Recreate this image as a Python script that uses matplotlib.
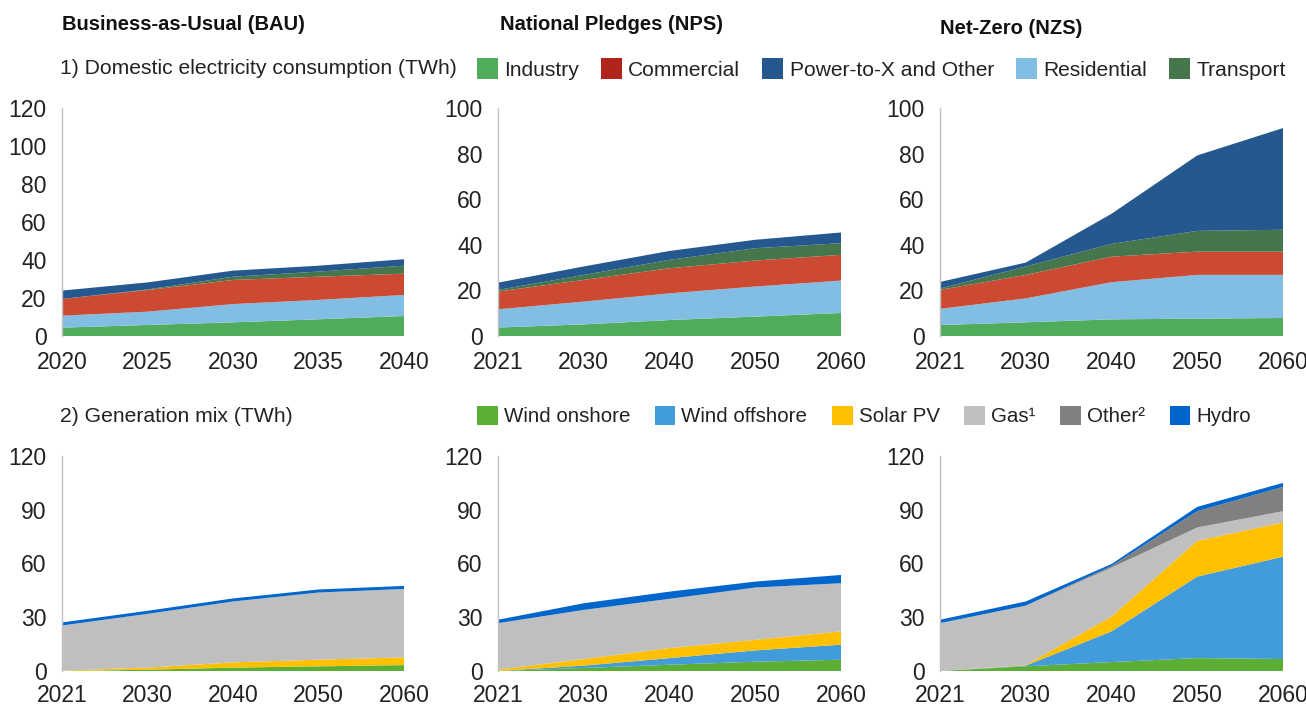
import matplotlib
matplotlib.use("Agg")
import matplotlib.pyplot as plt
from matplotlib.patches import Patch

plt.rcParams['font.family'] = ['Liberation Sans', 'DejaVu Sans']

# ---------------- Data ----------------
years_bau_top = ["2020", "2025", "2030", "2035", "2040"]
years = ["2021", "2030", "2040", "2050", "2060"]

cons_series = ["Industry", "Residential", "Commercial", "Transport", "Power-to-X and Other"]
# BAU consumption (TWh)
bau_industry = [4.4, 5.8, 7.2, 8.8, 10.5]
bau_residential = [6.3, 7.0, 9.6, 10.2, 11.1]
bau_commercial = [8.8, 11.4, 12.7, 12.2, 11.2]
bau_transport = [0.0, 0.3, 1.7, 2.7, 4.2]
bau_ptx = [4.4, 3.7, 3.2, 3.1, 3.4]
# NPS consumption
nps_industry = [3.7, 5.1, 7.0, 8.5, 10.1]
nps_residential = [8.0, 10.0, 11.7, 13.2, 14.2]
nps_commercial = [7.8, 9.5, 11.0, 11.4, 11.3]
nps_transport = [0.7, 2.2, 3.7, 5.4, 5.1]
nps_ptx = [3.2, 3.7, 3.9, 3.7, 4.7]
# NZS consumption
nzs_industry = [4.8, 6.0, 7.3, 7.6, 7.9]
nzs_residential = [7.1, 10.5, 16.3, 19.2, 18.9]
nzs_commercial = [8.3, 10.3, 11.2, 10.2, 10.2]
nzs_transport = [0.6, 3.7, 5.6, 9.1, 9.6]
nzs_ptx = [2.9, 1.7, 13.2, 33.1, 44.6]

gen_series = ["Wind onshore", "Wind offshore", "Solar PV", "Gas", "Other", "Hydro"]
# BAU generation
bau_won = [0.0, 0.7, 1.9, 2.6, 3.3]
bau_woff = [0.0, 0.0, 0.0, 0.0, 0.0]
bau_solar = [0.2, 1.2, 2.9, 3.7, 4.3]
bau_gas = [25.2, 30.0, 34.0, 37.5, 38.2]
bau_other = [0.0, 0.0, 0.0, 0.0, 0.0]
bau_hydro = [1.7, 1.7, 1.7, 1.7, 1.7]
# NPS generation
nps_won = [0.0, 1.7, 3.5, 5.2, 6.3]
nps_woff = [0.0, 1.3, 3.7, 6.3, 8.4]
nps_solar = [0.7, 3.7, 5.6, 5.9, 7.4]
nps_gas = [26.0, 27.4, 27.5, 29.2, 26.9]
nps_other = [0.0, 0.0, 0.0, 0.0, 0.0]
nps_hydro = [1.9, 3.7, 4.0, 3.3, 4.6]
# NZS generation
nzs_won = [0.0, 2.6, 5.0, 7.2, 6.7]
nzs_woff = [0.0, 0.4, 17.1, 45.5, 57.1]
nzs_solar = [0.0, 0.3, 8.3, 20.0, 19.1]
nzs_gas = [26.7, 33.2, 27.3, 7.4, 6.3]
nzs_other = [0.0, 0.0, 0.9, 9.1, 13.6]
nzs_hydro = [1.9, 2.3, 1.1, 2.4, 2.2]

cons_colors = ["#4EAC5B", "#82BDE4", "#CD4A32", "#46764C", "#24588E"]
gen_colors = ["#5BAF35", "#429BDA", "#FFC000", "#BFBFBF", "#808080", "#0066CC"]

W, H = 1306, 706
fig = plt.figure(figsize=(W / 100, H / 100), dpi=100)

def ax_at(x0, x1, ytop, ybot):
    return fig.add_axes([x0 / W, 1 - ybot / H, (x1 - x0) / W, (ybot - ytop) / H])

cols = [(62, 404), (498, 841), (940, 1283)]

def style(ax, labels, ymax, ystep):
    ax.set_xlim(0, len(labels) - 1)
    ax.set_ylim(0, ymax)
    ax.set_xticks(range(len(labels)))
    ax.set_xticklabels(labels)
    ax.set_yticks(range(0, ymax + 1, ystep))
    for s in ["top", "right", "bottom"]:
        ax.spines[s].set_visible(False)
    ax.spines["left"].set_color("#BFBFBF")
    ax.spines["left"].set_linewidth(1.0)
    ax.tick_params(axis="both", length=0, labelsize=16.5, colors="#222222")
    ax.tick_params(axis="y", pad=11)
    ax.tick_params(axis="x", pad=11)
    ax.patch.set_visible(False)

cons_data = [
    (years_bau_top, [bau_industry, bau_residential, bau_commercial, bau_transport, bau_ptx], 120, 20),
    (years, [nps_industry, nps_residential, nps_commercial, nps_transport, nps_ptx], 100, 20),
    (years, [nzs_industry, nzs_residential, nzs_commercial, nzs_transport, nzs_ptx], 100, 20),
]
gen_data = [
    [bau_won, bau_woff, bau_solar, bau_gas, bau_other, bau_hydro],
    [nps_won, nps_woff, nps_solar, nps_gas, nps_other, nps_hydro],
    [nzs_won, nzs_woff, nzs_solar, nzs_gas, nzs_other, nzs_hydro],
]

for (x0, x1), (labs, ser, ymax, ystep) in zip(cols, cons_data):
    ax = ax_at(x0, x1, 108, 336)
    ax.stackplot(range(len(labs)), *ser, colors=cons_colors, linewidth=0)
    style(ax, labs, ymax, ystep)

for (x0, x1), ser in zip(cols, gen_data):
    ax = ax_at(x0, x1, 456, 671)
    ax.stackplot(range(len(years)), *ser, colors=gen_colors, linewidth=0)
    style(ax, years, 120, 30)
    ax.tick_params(axis="x", pad=9)

# Titles
fig.text(62 / W, 1 - 25 / H, "Business-as-Usual (BAU)", fontsize=14.5, fontweight="bold",
         va="center", ha="left", color="#111111")
fig.text(500 / W, 1 - 25 / H, "National Pledges (NPS)", fontsize=14.5, fontweight="bold",
         va="center", ha="left", color="#111111")
fig.text(940 / W, 1 - 29 / H, "Net-Zero (NZS)", fontsize=14.5, fontweight="bold",
         va="center", ha="left", color="#111111")

fig.text(60 / W, 1 - 69 / H, "1) Domestic electricity consumption (TWh)", fontsize=15.2,
         va="center", ha="left", color="#222222")
fig.text(60 / W, 1 - 416 / H, "2) Generation mix (TWh)", fontsize=15.2,
         va="center", ha="left", color="#222222")

leg1_labels = ["Industry", "Commercial", "Power-to-X and Other", "Residential", "Transport"]
leg1_colors = ["#4EAC5B", "#B0241B", "#24588E", "#82BDE4", "#46764C"]
h1 = [Patch(facecolor=c, edgecolor="none") for c in leg1_colors]
fig.legend(h1, leg1_labels, loc="center left", bbox_to_anchor=(477 / W, 1 - 69 / H),
           ncol=5, frameon=False, fontsize=15.1, handlelength=1.0, handleheight=1.1,
           handletextpad=0.3, columnspacing=1.05, borderpad=0, borderaxespad=0,
           labelcolor="#222222")

leg2_labels = ["Wind onshore", "Wind offshore", "Solar PV", "Gas¹", "Other²", "Hydro"]
h2 = [Patch(facecolor=c, edgecolor="none") for c in gen_colors]
fig.legend(h2, leg2_labels, loc="center left", bbox_to_anchor=(477 / W, 1 - 416 / H),
           ncol=6, frameon=False, fontsize=14.8, handlelength=1.0, handleheight=1.1,
           handletextpad=0.3, columnspacing=1.2, borderpad=0, borderaxespad=0,
           labelcolor="#222222")

fig.savefig("out.png", dpi=100)
